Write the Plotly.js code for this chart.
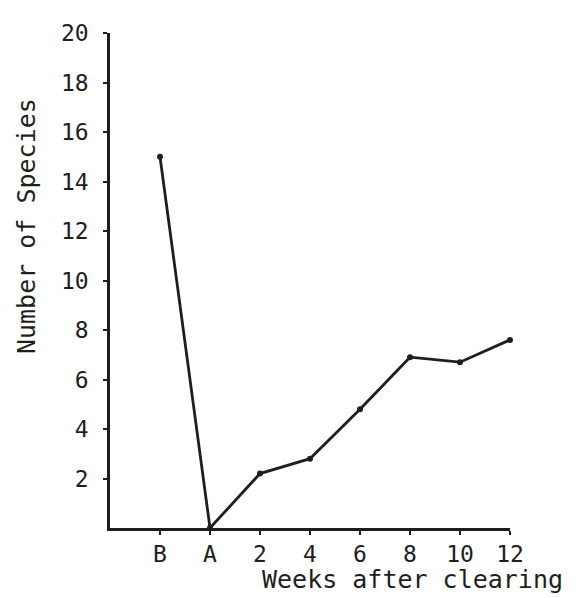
<!DOCTYPE html>
<html>
<head>
<meta charset="utf-8">
<script src="https://cdn.plot.ly/plotly-3.0.1.min.js"></script>
<style>
  html, body { margin: 0; padding: 0; background: #ffffff; }
  #chart { width: 579px; height: 598px; }
</style>
</head>
<body>
<div id="chart"></div>
<script>
// Sampling periods: B = before clearing, A = just after, then weeks after clearing
const periods = ['B', 'A', '2', '4', '6', '8', '10', '12'];
// Number of species recorded at each period
const speciesCount = [15, 0, 2.2, 2.8, 4.8, 6.9, 6.7, 7.6];
// Vertical axis ticks
const yTicks = [2, 4, 6, 8, 10, 12, 14, 16, 18, 20];

const ink = '#1e1e1e';
const font = 'DejaVu Sans Mono, Liberation Mono, monospace';

const trace = {
  x: periods,
  y: speciesCount,
  type: 'scatter',
  mode: 'lines+markers',
  line: { color: ink, width: 2.8 },
  marker: { color: ink, size: 6 },
  cliponaxis: false,
  hoverinfo: 'skip'
};

const layout = {
  width: 579,
  height: 598,
  margin: { l: 110, r: 69, t: 33, b: 70 },
  paper_bgcolor: '#ffffff',
  plot_bgcolor: '#ffffff',
  showlegend: false,
  font: { family: font, color: ink, size: 23 },
  xaxis: {
    type: 'category',
    categoryorder: 'array',
    categoryarray: periods,
    range: [-1, 7],
    showgrid: false,
    zeroline: false,
    showline: true,
    linecolor: ink,
    linewidth: 2.8,
    ticks: 'outside',
    ticklen: 4,
    tickwidth: 2.5,
    tickcolor: ink,
    ticklabelstandoff: 0,
    tickfont: { family: font, size: 23, color: ink },
    fixedrange: true
  },
  yaxis: {
    range: [0, 20],
    tickvals: yTicks,
    ticktext: yTicks.map(String),
    showgrid: false,
    zeroline: false,
    showline: true,
    linecolor: ink,
    linewidth: 2.8,
    ticks: 'outside',
    ticklen: 4,
    tickwidth: 2,
    tickcolor: ink,
    ticklabelstandoff: 10,
    tickfont: { family: font, size: 23, color: ink },
    fixedrange: true
  },
  annotations: [
    {
      text: 'Number of Species',
      xref: 'paper', yref: 'paper',
      x: -0.21, y: 0.61,
      xanchor: 'center', yanchor: 'middle',
      textangle: -90,
      showarrow: false,
      font: { family: font, size: 25, color: ink }
    },
    {
      text: 'Weeks after clearing',
      xref: 'paper', yref: 'paper',
      x: 0.755, y: -0.105,
      xanchor: 'center', yanchor: 'middle',
      showarrow: false,
      font: { family: font, size: 25, color: ink }
    }
  ]
};

Plotly.newPlot('chart', [trace], layout, { displayModeBar: false, staticPlot: true });
</script>
</body>
</html>
